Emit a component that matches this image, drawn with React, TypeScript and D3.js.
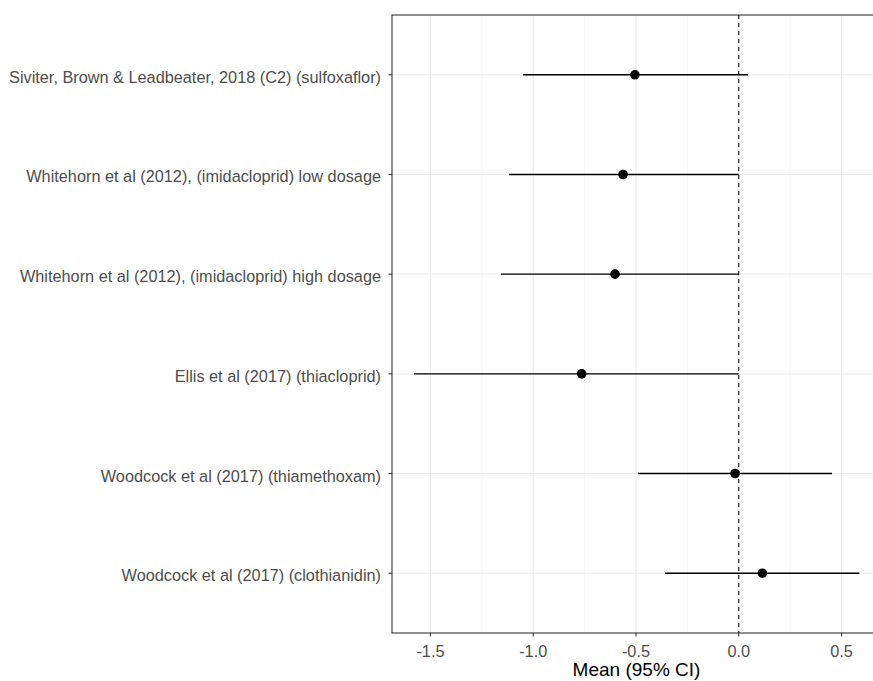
import React from "react";
import * as d3 from "d3";

const studies = [
  "Siviter, Brown & Leadbeater, 2018 (C2) (sulfoxaflor)",
  "Whitehorn et al (2012), (imidacloprid) low dosage",
  "Whitehorn et al (2012), (imidacloprid) high dosage",
  "Ellis et al (2017) (thiacloprid)",
  "Woodcock et al (2017) (thiamethoxam)",
  "Woodcock et al (2017) (clothianidin)",
];
const means = [-0.505, -0.563, -0.602, -0.764, -0.018, 0.115];
const lowers = [-1.05, -1.118, -1.157, -1.58, -0.49, -0.359];
const uppers = [0.045, 0.0, 0.0, 0.0, 0.454, 0.587];
const xTicks = [-1.5, -1.0, -0.5, 0.0, 0.5];
const xMinor = [-1.25, -0.75, -0.25, 0.25];

export default function App() {
  const W = 873, H = 681;
  const left = 392, right = 881, top = 15, bottom = 633;
  const x = d3.scaleLinear().domain([-1.687, 0.692]).range([left, right]);
  const y = d3
    .scalePoint<string>()
    .domain(studies)
    .range([top, bottom])
    .padding(0.6);
  const font = "'Liberation Sans', Arial, sans-serif";
  const fmt = (v: number) => d3.format(".1f")(v).replace("\u2212", "-");
  return (
    <svg
      width={W}
      height={H}
      style={{ position: "absolute", left: 0, top: 0, background: "#fff" }}
      fontFamily={font}
    >
      <rect x={0} y={0} width={W} height={H} fill="#fff" />
      {xMinor.map((v) => (
        <line key={"mn" + v} x1={x(v)} x2={x(v)} y1={top} y2={bottom} stroke="#F2F2F2" strokeWidth={0.6} />
      ))}
      {xTicks.map((v) => (
        <line key={"mj" + v} x1={x(v)} x2={x(v)} y1={top} y2={bottom} stroke="#EBEBEB" strokeWidth={1.1} />
      ))}
      {studies.map((s) => (
        <line key={"hg" + s} x1={left} x2={right} y1={y(s)} y2={y(s)} stroke="#EBEBEB" strokeWidth={1.1} />
      ))}
      <line x1={x(0)} x2={x(0)} y1={top} y2={bottom} stroke="#000" strokeWidth={1} strokeDasharray="4,4" />
      {studies.map((s, i) => (
        <g key={"e" + s}>
          <line x1={x(lowers[i])} x2={x(uppers[i])} y1={y(s)} y2={y(s)} stroke="#000" strokeWidth={1.4} />
          <circle cx={x(means[i])} cy={y(s)} r={4.8} fill="#000" />
        </g>
      ))}
      <rect x={left} y={top} width={right - left} height={bottom - top} fill="none" stroke="#333" strokeWidth={1.1} />
      {studies.map((s) => (
        <g key={"yl" + s}>
          <line x1={left - 3.5} x2={left} y1={y(s)} y2={y(s)} stroke="#333" strokeWidth={1.1} />
          <text x={left - 11} y={(y(s) as number) + 8} textAnchor="end" fontSize={16.3} fill="#4D4D4D">
            {s}
          </text>
        </g>
      ))}
      {xTicks.map((v) => (
        <g key={"xl" + v}>
          <line x1={x(v)} x2={x(v)} y1={bottom} y2={bottom + 3.5} stroke="#333" strokeWidth={1.1} />
          <text x={x(v)} y={657} textAnchor="middle" fontSize={16.3} fill="#4D4D4D">
            {fmt(v)}
          </text>
        </g>
      ))}
      <text x={(left + right) / 2} y={676} textAnchor="middle" fontSize={19} fill="#000">
        Mean (95% CI)
      </text>
    </svg>
  );
}
